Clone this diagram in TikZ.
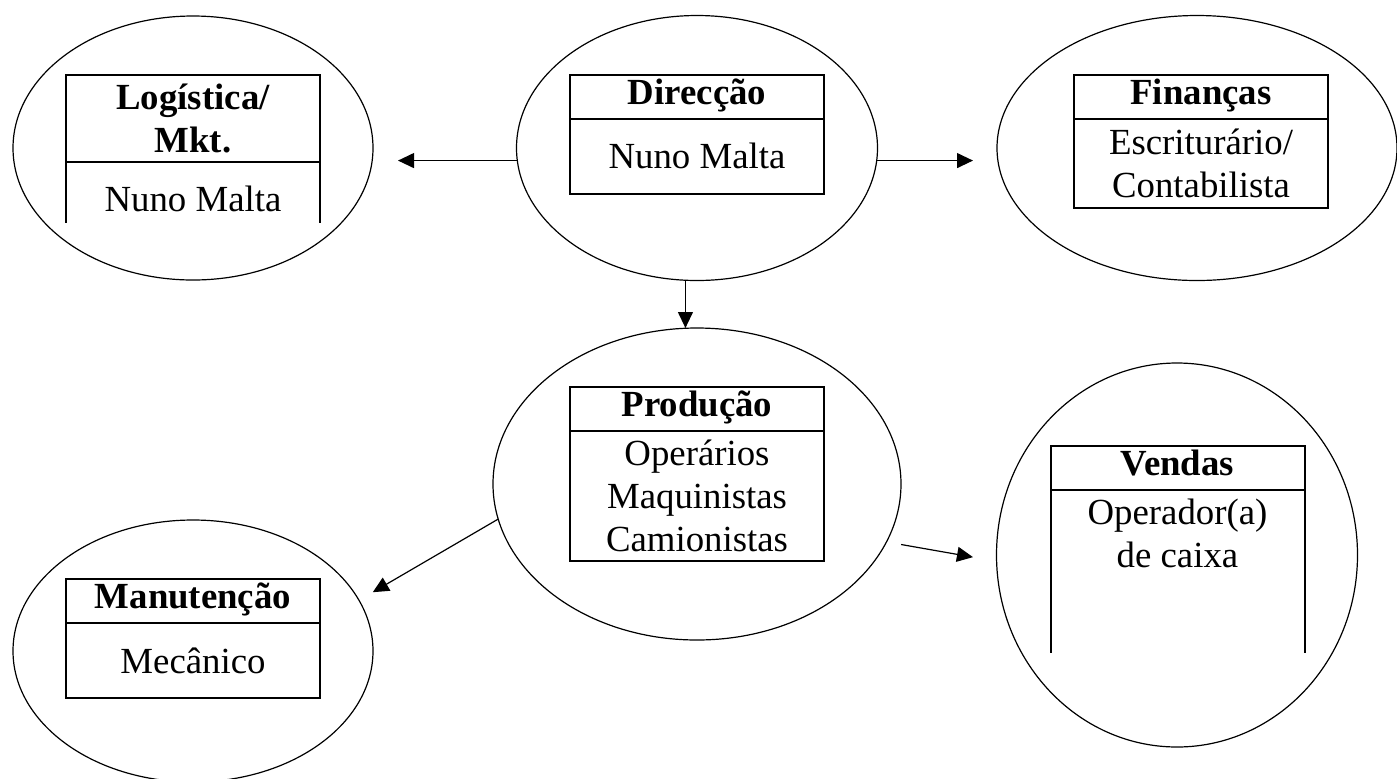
\documentclass[tikz,border=0pt]{standalone}
\usepackage{fontspec}
\setmainfont{Liberation Serif}
\usetikzlibrary{shapes.geometric, arrows.meta, positioning}

\begin{document}
\begin{tikzpicture}[x=0.5pt, y=-0.5pt, font=\fontsize{18.4pt}{21.5pt}\selectfont,
  dept/.style={draw, ellipse, line width=0.6pt, inner sep=0pt, outer sep=0pt},
  head/.style={draw, line width=1pt, minimum width=127pt, minimum height=22pt, inner sep=1pt, outer sep=0pt, align=center, font=\fontsize{18.4pt}{21.5pt}\selectfont\bfseries},
  oneline/.style={text height=0.85em, text depth=0.1em},
  body/.style={draw, line width=1pt, minimum width=127pt, inner sep=1pt, outer sep=0pt, align=center},
  openbody/.style={minimum width=127pt, inner sep=1pt, outer sep=0pt, align=center},
  arr/.style={-{Triangle[length=8pt, width=7.5pt]}, line width=0.6pt}]
\useasboundingbox (0,0) rectangle (1397,778);
\clip (0,0) rectangle (1397,778);

\node[dept, minimum width=180pt, minimum height=132pt] (log) at (193,148) {};
\node[dept, minimum width=180.5pt, minimum height=132.5pt] (dir) at (697,148) {};
\node[dept, minimum width=200pt, minimum height=132.5pt] (fin) at (1197,148) {};
\node[dept, minimum width=204pt, minimum height=156pt] (pro) at (697,484) {};
\node[dept, minimum width=180pt, minimum height=131pt] (man) at (193,651) {};
\node[dept, minimum width=180.5pt, minimum height=192pt] (ven) at (1177,555) {};

\node[head, minimum height=43.5pt] (loghead) at (193,118.5) {Logística/\\Mkt.};
\node[openbody, minimum height=37pt, below=0pt of loghead] (logbody) {Nuno Malta};
\draw[line width=1pt] (loghead.south west) -- ++(0,61) (loghead.south east) -- ++(0,61);

\node[head, oneline] (dirhead) at (697,96.5) {Direcção};
\node[body, minimum height=37.5pt, below=0pt of dirhead] (dirbody) {Nuno Malta};

\node[head, oneline] (finhead) at (1201,96.5) {Finanças};
\node[body, minimum height=44.5pt, below=0pt of finhead] (finbody) {Escriturário/\\Contabilista};

\node[head, oneline] (prohead) at (697,409) {Produção};
\node[body, minimum height=65pt, below=0pt of prohead] (probody) {Operários\\Maquinistas\\Camionistas};

\node[head, oneline] (manhead) at (193,601) {Manutenção};
\node[body, minimum height=37.5pt, below=0pt of manhead] (manbody) {Mecânico};

\node[head, oneline] (venhead) at (1177.5,467.5) {Vendas};
\node[openbody, inner ysep=4.5pt, below=0pt of venhead] (venbody) {Operador(a)\\de caixa};
\draw[line width=1pt] (venhead.south west) -- ++(0,163) (venhead.south east) -- ++(0,163);

\draw[arr, shorten >=12.5pt] (dir.184) -- (dir.184 -| log.east);
\draw[arr, shorten >=12pt] (dir.356) -- (dir.356 -| fin.west);
\draw[arr] (dir.265) -- (dir.265 |- pro.north);
\draw[arr, shorten >=8pt] (pro.190) -- (man.17);
\draw[arr, shorten <=7.5pt, shorten >=12pt] (pro.343) -- (ven.182);
\end{tikzpicture}
\end{document}
